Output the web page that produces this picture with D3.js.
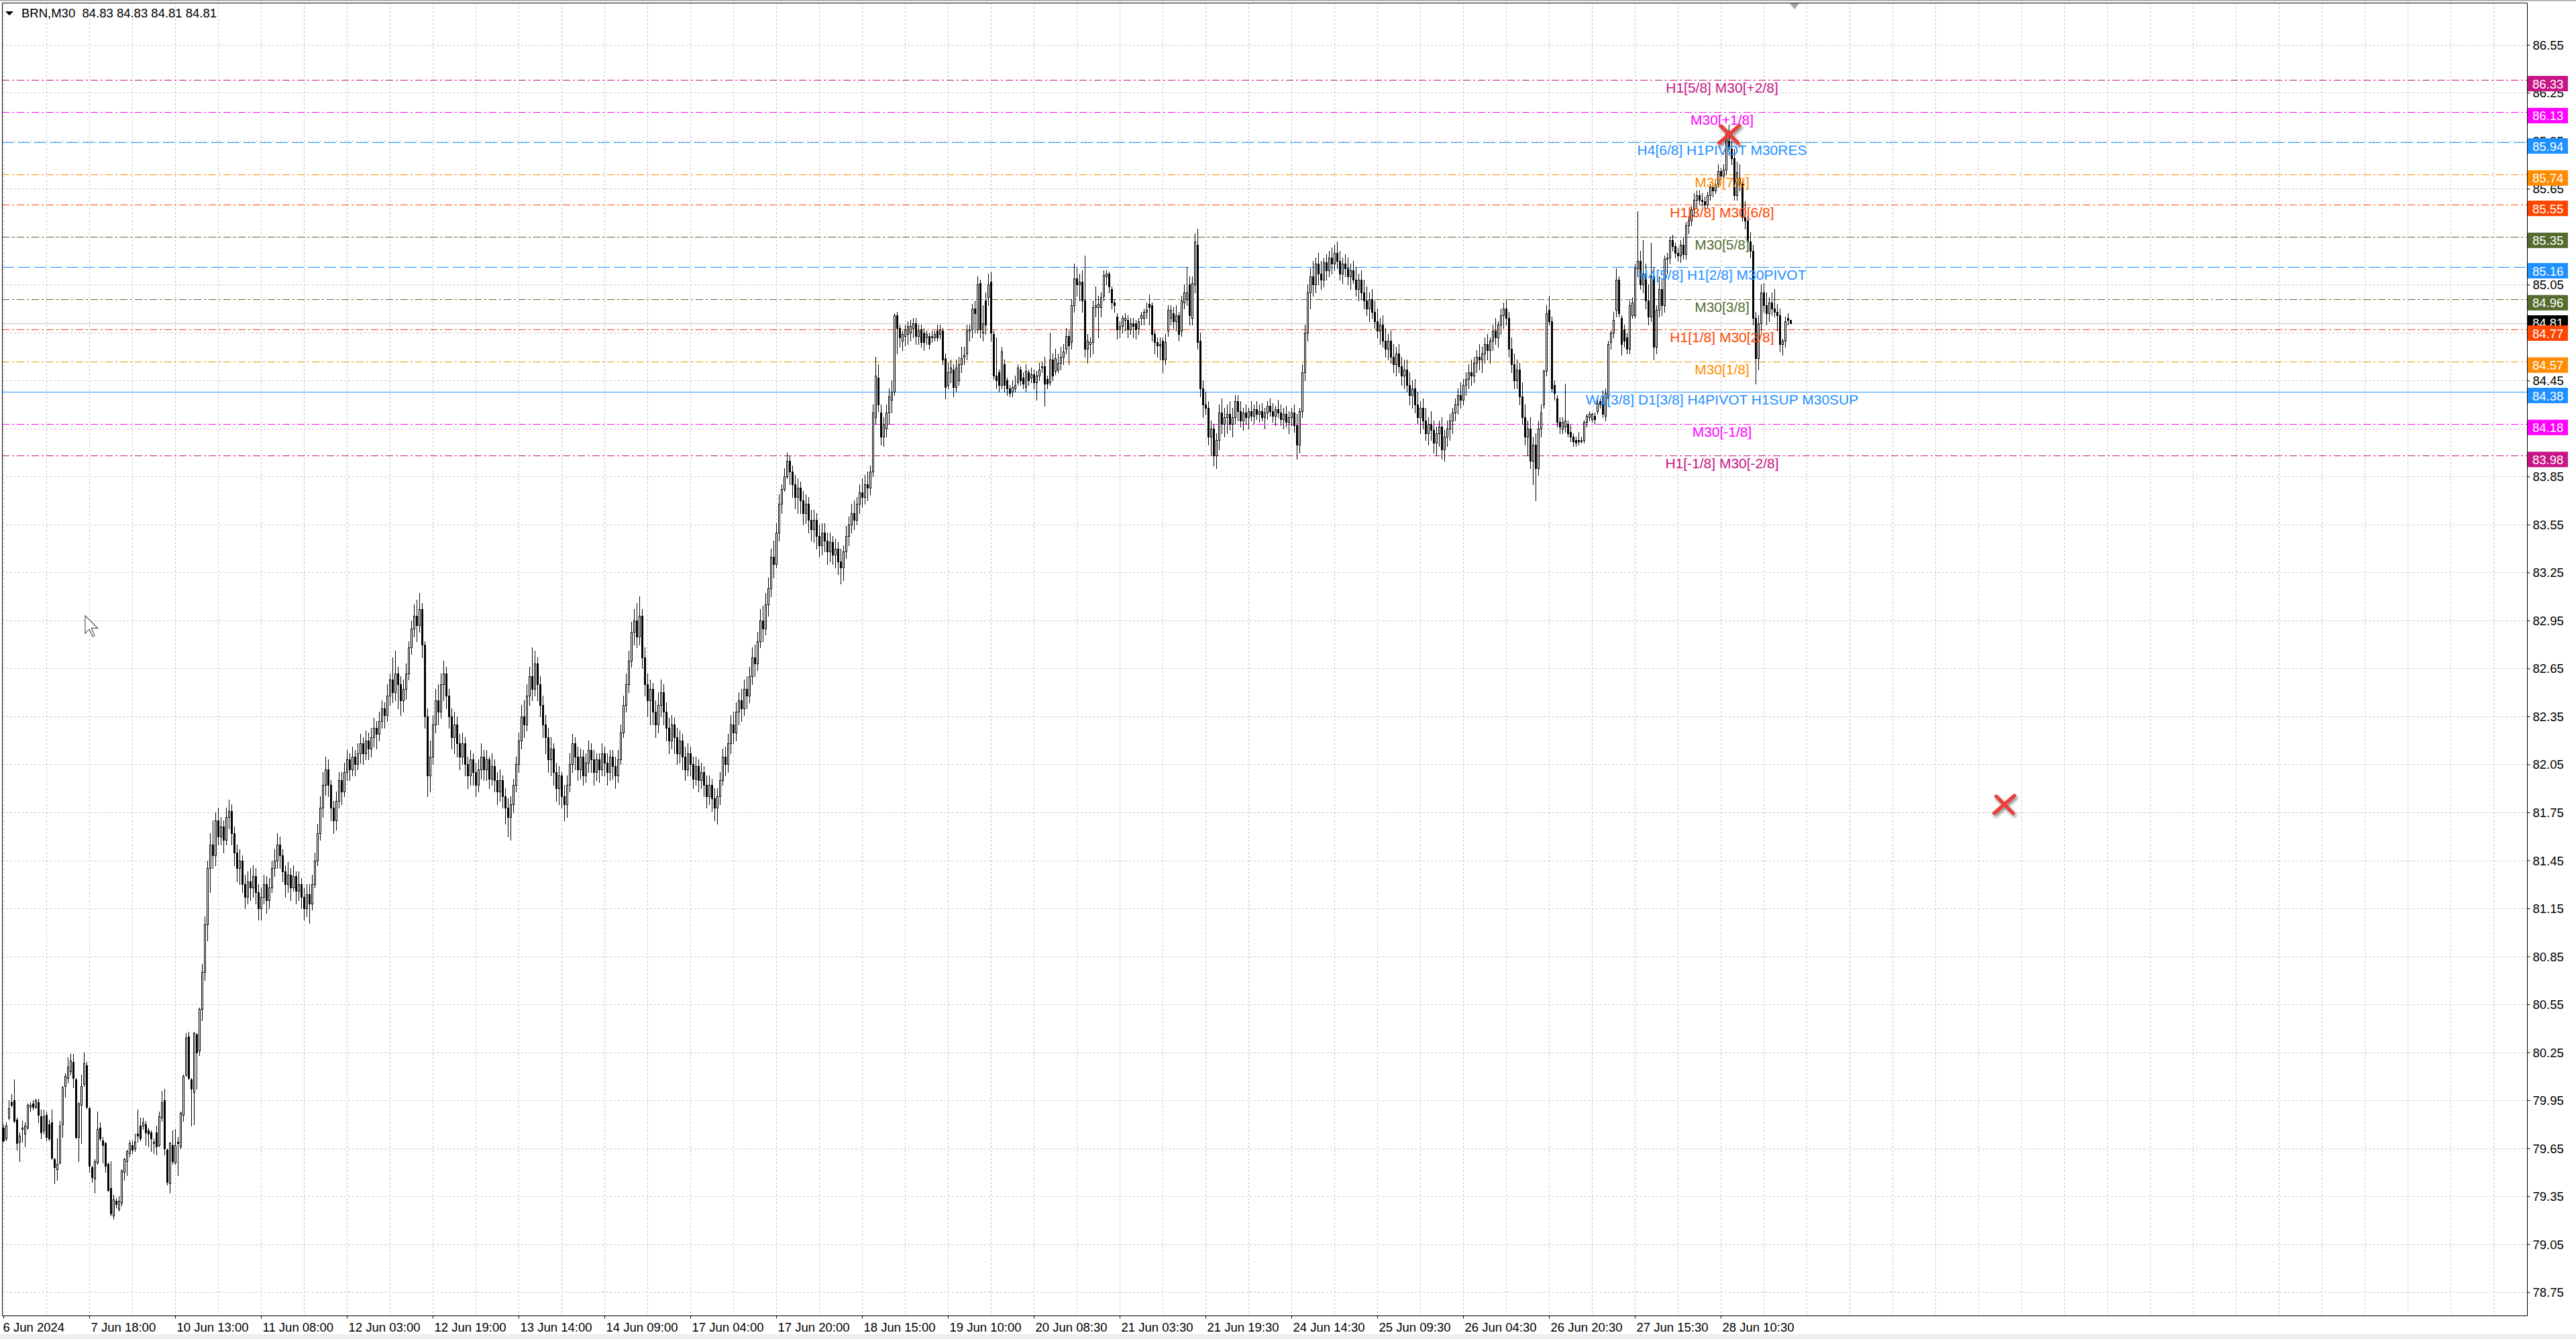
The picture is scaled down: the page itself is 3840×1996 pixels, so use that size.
<!DOCTYPE html>
<html><head><meta charset="utf-8">
<script src="https://cdn.jsdelivr.net/npm/d3@7"></script>
<style>html,body{margin:0;padding:0;background:#fff;overflow:hidden}</style>
</head><body><svg id="c" width="3840" height="1996"></svg>
<script>
// ---------------- DATA ----------------
const headerText = "BRN,M30  84.83 84.83 84.81 84.81";
const opens  = [79.78,79.71,79.84,79.94,79.95,79.83,79.69,79.77,79.74,79.78,79.91,79.93,79.91,79.94,79.85,79.76,79.86,79.80,79.81,79.58,79.52,79.56,79.80,80.04,80.09,80.13,80.19,80.08,79.72,79.92,80.05,80.17,79.90,79.53,79.46,79.56,79.78,79.70,79.68,79.55,79.40,79.23,79.32,79.27,79.31,79.50,79.57,79.62,79.67,79.65,79.74,79.79,79.79,79.80,79.76,79.75,79.68,79.75,79.67,79.84,79.95,79.64,79.43,79.67,79.56,79.69,79.66,79.86,80.11,80.35,80.08,80.00,80.36,80.26,
80.52,80.75,81.05,81.40,81.55,81.48,81.70,81.60,81.66,81.58,81.72,81.76,81.62,81.50,81.40,81.45,81.30,81.22,81.32,81.28,81.35,81.25,81.15,81.22,81.30,81.20,81.28,
81.40,81.45,81.55,81.48,81.38,81.30,81.36,81.28,81.35,81.26,81.30,81.22,81.15,81.24,81.18,81.30,81.45,81.62,81.78,81.92,
82.02,81.92,81.78,81.70,81.82,81.95,81.88,82.00,82.08,82.02,82.10,82.05,82.12,82.18,82.12,82.20,82.15,82.22,82.28,82.24,82.32,82.40,82.36,82.48,82.58,82.50,82.62,82.55,82.45,82.52,
82.62,82.78,82.90,82.98,82.92,83.02,82.80,82.35,81.98,82.10,82.30,82.45,82.38,82.55,82.62,82.48,82.35,82.22,82.30,82.18,
82.10,82.18,82.05,81.98,82.08,82.00,81.92,82.02,82.10,82.02,82.08,81.96,82.04,81.95,81.88,81.95,81.85,81.78,81.72,81.80,81.92,82.05,82.20,82.35,82.30,82.48,82.60,82.52,82.68,82.55,
82.42,82.30,82.22,82.08,82.15,82.00,81.90,81.98,81.85,81.80,81.92,82.05,82.18,82.10,82.02,82.10,81.98,82.06,82.14,82.08,82.00,82.08,82.02,82.12,82.06,82.00,82.10,82.04,81.98,82.08,
82.25,82.42,82.55,82.70,82.88,82.95,82.85,82.98,82.72,82.55,82.45,82.52,82.38,82.30,82.42,82.50,82.38,82.28,82.20,82.30,
82.22,82.12,82.20,82.10,82.02,82.12,82.05,81.96,82.04,81.95,82.00,81.92,81.85,81.92,81.84,81.78,81.85,81.95,82.10,82.05,82.18,82.30,
82.25,82.38,82.45,82.40,82.52,82.48,82.60,82.72,82.68,82.82,82.95,82.90,83.05,83.15,83.35,83.30,83.50,83.68,83.77,83.85,83.95,83.88,83.80,83.72,83.78,83.70,83.62,83.68,
83.58,83.52,83.58,83.48,83.42,83.50,83.45,83.38,83.44,83.36,83.40,83.32,83.28,83.38,83.48,83.55,83.62,83.58,83.68,83.75,83.72,83.80,83.78,
83.88,84.22,84.47,84.25,84.10,84.15,84.25,84.33,84.38,84.86,84.78,84.70,84.73,84.74,84.75,84.78,84.81,84.73,84.77,84.75,84.72,84.73,84.72,84.72,84.76,84.74,84.76,
84.59,84.42,84.50,84.52,84.41,84.45,84.55,84.60,84.62,84.76,84.77,84.90,84.77,85.06,84.75,84.95,84.97,85.07,84.74,84.48,84.50,84.42,84.55,84.45,84.40,
84.38,84.40,84.44,84.52,84.47,84.41,84.50,84.47,84.49,84.44,84.48,84.53,84.54,84.46,84.44,84.58,84.51,84.52,84.56,84.60,84.65,84.73,84.69,84.92,
85.09,85.05,85.07,84.95,84.65,84.68,84.69,84.91,84.91,84.91,84.98,85.10,85.12,85.02,84.94,84.85,84.77,84.79,84.83,84.83,84.77,84.81,84.81,84.78,84.84,
84.84,84.88,84.93,84.92,84.74,84.69,84.67,84.70,84.58,84.76,84.84,84.87,84.82,84.86,84.76,84.94,84.96,85.05,84.84,85.05,85.30,84.70,84.40,84.30,
84.28,84.10,84.15,83.98,84.08,84.25,84.18,84.22,84.24,84.18,84.22,84.32,84.26,84.20,84.25,84.22,84.26,84.23,84.27,84.24,84.26,84.22,84.25,84.29,84.26,84.23,84.27,84.25,84.21,84.24,84.19,84.22,84.25,84.17,84.05,
84.26,84.50,84.75,85.00,85.10,85.05,85.18,85.12,85.08,85.19,85.14,85.22,85.18,85.25,85.20,85.12,85.18,85.15,85.10,85.14,85.08,85.02,85.08,85.00,84.95,84.90,84.96,
84.88,84.82,84.76,84.80,84.70,84.65,84.70,84.60,84.55,84.62,84.54,84.48,84.52,84.42,84.36,84.40,84.30,84.22,84.28,84.20,84.12,84.18,84.14,84.06,84.12,84.16,84.02,84.10,84.15,84.20,
84.25,84.30,84.36,84.33,84.42,84.46,84.50,84.48,84.56,84.60,84.58,84.62,84.68,84.64,84.70,84.76,84.72,84.80,84.86,84.90,84.84,84.65,84.55,84.45,84.52,84.35,84.22,84.10,84.15,83.95,84.05,83.90,84.15,
84.30,84.51,84.89,84.82,84.42,84.34,84.19,84.15,84.16,84.18,84.13,84.10,84.08,84.08,84.07,84.08,84.19,84.22,84.21,84.23,84.26,84.32,84.35,84.23,84.34,84.69,84.75,84.89,85.08,84.84,84.77,84.72,84.65,84.86,84.86,
85.15,85.20,85.05,85.12,84.95,84.85,85.10,84.66,84.89,85.02,84.92,85.21,85.22,85.33,85.29,85.25,85.23,85.30,85.24,85.42,85.45,85.52,85.58,85.61,85.58,85.57,85.55,85.61,85.66,85.64,85.68,85.76,85.73,85.77,85.95,85.90,85.84,85.61,85.72,85.68,85.47,85.45,85.32,85.26,84.84,84.59,84.81,85.00,84.92,84.87,84.94,84.90,84.88,84.86,84.68,84.70,84.84,84.83];
const highs  = [79.80,79.81,79.95,79.99,80.08,79.84,79.75,79.82,79.81,79.93,79.94,79.95,79.96,79.96,79.89,79.89,79.88,79.83,79.89,79.59,79.71,79.82,80.04,80.12,80.22,80.24,80.24,80.09,79.94,80.11,80.25,80.19,79.91,79.54,79.58,79.88,79.81,79.72,79.69,79.56,79.57,79.36,79.34,79.35,79.52,79.59,79.64,79.70,79.70,79.74,79.89,79.84,79.84,79.82,79.78,79.76,79.71,79.79,79.88,80.01,80.02,79.65,79.69,79.76,79.77,79.72,79.88,80.11,80.37,80.38,80.09,80.38,80.37,80.53,
80.80,81.10,81.45,81.62,81.70,81.75,81.78,81.72,81.70,81.78,81.83,81.80,81.66,81.55,81.52,81.48,81.36,81.38,81.40,81.42,81.40,81.30,81.28,81.36,81.35,81.34,81.45,
81.52,81.62,81.60,81.52,81.42,81.44,81.40,81.42,81.38,81.38,81.34,81.28,81.30,81.30,81.36,81.50,81.68,81.85,82.00,82.10,
82.08,81.95,81.82,81.88,82.00,82.00,82.06,82.14,82.12,82.16,82.14,82.18,82.24,82.22,82.26,82.25,82.28,82.34,82.32,82.38,82.45,82.44,82.55,82.62,82.72,82.76,82.66,82.60,82.58,82.68,
82.82,82.95,83.05,83.08,83.12,83.06,82.82,82.40,82.20,82.36,82.52,82.55,82.62,82.70,82.66,82.52,82.40,82.38,82.35,82.24,
82.25,82.22,82.10,82.14,82.12,82.06,82.08,82.18,82.14,82.14,82.10,82.12,82.08,82.00,82.02,81.98,81.90,81.84,81.85,81.96,82.10,82.25,82.42,82.45,82.55,82.66,82.78,82.76,82.72,82.60,
82.48,82.36,82.28,82.22,82.18,82.06,82.04,82.00,81.92,81.98,82.12,82.24,82.22,82.16,82.15,82.14,82.12,82.20,82.18,82.14,82.12,82.12,82.18,82.16,82.12,82.14,82.14,82.10,82.14,82.30,
82.48,82.62,82.76,82.94,83.02,83.06,83.10,83.02,82.78,82.62,82.58,82.56,82.45,82.50,82.58,82.55,82.44,82.34,82.36,82.34,
82.28,82.26,82.24,82.16,82.18,82.16,82.10,82.10,82.08,82.06,82.04,81.98,81.98,81.96,81.90,81.90,82.00,82.15,82.16,82.24,82.36,82.38,
82.44,82.50,82.52,82.58,82.60,82.66,82.78,82.80,82.88,83.02,83.04,83.12,83.22,83.40,83.45,83.56,83.74,83.80,83.90,84.00,83.98,83.92,83.86,83.84,83.82,83.76,83.74,83.72,
83.64,83.64,83.62,83.55,83.56,83.56,83.50,83.50,83.48,83.46,83.44,83.40,83.42,83.54,83.60,83.68,83.70,83.72,83.80,83.84,83.86,83.88,83.92,
84.30,84.60,84.55,84.30,84.22,84.30,84.40,84.45,84.87,84.88,84.80,84.76,84.80,84.82,84.83,84.84,84.84,84.80,84.80,84.78,84.76,84.75,84.76,84.76,84.80,84.80,84.78,
84.62,84.56,84.58,84.55,84.58,84.60,84.66,84.66,84.80,84.80,84.93,84.95,85.10,85.08,84.92,85.00,85.12,85.13,84.76,84.72,84.52,84.66,84.58,84.47,84.42,
84.45,84.48,84.55,84.54,84.50,84.55,84.52,84.53,84.52,84.51,84.56,84.57,84.60,84.48,84.75,84.62,84.65,84.62,84.66,84.68,84.78,84.76,84.96,85.18,
85.16,85.12,85.14,85.23,84.74,84.72,84.95,85.04,84.98,85.00,85.14,85.14,85.13,85.04,84.96,84.87,84.82,84.86,84.87,84.86,84.84,84.84,84.83,84.84,84.88,
84.90,84.94,84.99,84.94,84.76,84.72,84.72,84.72,84.74,84.92,84.92,84.91,84.92,84.88,84.98,85.05,85.16,85.10,85.10,85.37,85.40,84.75,84.45,84.38,
84.32,84.20,84.18,84.12,84.30,84.34,84.28,84.30,84.32,84.28,84.36,84.36,84.32,84.28,84.30,84.28,84.32,84.30,84.32,84.30,84.31,84.28,84.32,84.34,84.31,84.29,84.33,84.30,84.28,84.29,84.26,84.28,84.30,84.24,84.28,
84.55,84.80,85.05,85.15,85.20,85.22,85.25,85.20,85.22,85.24,85.26,85.28,85.30,85.32,85.26,85.22,85.24,85.22,85.18,85.20,85.16,85.12,85.14,85.08,85.04,85.00,85.02,
84.95,84.90,84.84,84.86,84.78,84.74,84.76,84.68,84.66,84.68,84.60,84.58,84.58,84.50,84.45,84.46,84.38,84.32,84.34,84.28,84.22,84.26,84.20,84.16,84.20,84.22,84.14,84.20,84.24,84.28,
84.34,84.40,84.44,84.46,84.50,84.55,84.58,84.60,84.64,84.68,84.66,84.72,84.74,84.72,84.80,84.84,84.82,84.90,84.94,84.96,84.88,84.72,84.62,84.58,84.56,84.44,84.30,84.20,84.22,84.10,84.12,84.20,84.30,
84.52,84.92,84.98,84.85,84.45,84.36,84.22,84.22,84.43,84.20,84.17,84.12,84.10,84.13,84.10,84.20,84.24,84.26,84.25,84.25,84.33,84.34,84.39,84.40,84.70,84.76,84.88,85.15,85.10,84.86,84.80,84.75,84.95,84.97,85.18,
85.51,85.26,85.33,85.18,85.05,85.31,85.16,84.92,85.10,85.08,85.23,85.25,85.35,85.36,85.31,85.28,85.33,85.35,85.44,85.48,85.54,85.62,85.64,85.64,85.62,85.60,85.63,85.68,85.69,85.70,85.80,85.78,85.80,86.02,86.05,85.95,85.90,85.82,85.80,85.70,85.57,85.48,85.38,85.30,84.88,84.86,85.05,85.06,85.00,84.97,85.00,85.02,84.93,84.90,84.71,84.85,84.87,84.83];
const lows   = [79.69,79.70,79.83,79.91,79.81,79.64,79.57,79.69,79.66,79.77,79.88,79.89,79.90,79.81,79.71,79.74,79.70,79.70,79.58,79.43,79.45,79.55,79.72,79.97,80.06,80.11,80.03,79.71,79.57,79.68,80.04,79.90,79.50,79.44,79.37,79.55,79.70,79.56,79.50,79.38,79.23,79.21,79.28,79.26,79.29,79.45,79.48,79.60,79.62,79.63,79.69,79.70,79.77,79.67,79.66,79.63,79.62,79.61,79.66,79.82,79.61,79.42,79.37,79.55,79.55,79.48,79.65,79.82,80.10,80.08,79.79,79.80,80.02,80.23,
80.45,80.70,80.95,81.25,81.40,81.42,81.55,81.55,81.50,81.55,81.65,81.55,81.42,81.32,81.30,81.25,81.15,81.18,81.20,81.22,81.18,81.08,81.08,81.18,81.12,81.15,81.25,
81.35,81.40,81.40,81.32,81.22,81.25,81.20,81.26,81.18,81.20,81.15,81.08,81.10,81.06,81.14,81.28,81.42,81.58,81.72,81.86,
81.85,81.70,81.62,81.64,81.78,81.80,81.85,81.95,81.95,81.98,81.98,82.02,82.06,82.05,82.08,82.08,82.10,82.16,82.15,82.20,82.28,82.28,82.32,82.42,82.44,82.45,82.40,82.36,82.38,82.46,
82.58,82.74,82.85,82.82,82.88,82.72,82.28,81.85,81.88,82.05,82.25,82.30,82.34,82.45,82.40,82.28,82.15,82.12,82.10,82.02,
82.05,81.98,81.90,81.92,81.92,81.85,81.88,81.96,81.95,81.95,81.90,81.92,81.88,81.80,81.82,81.78,81.68,81.60,81.58,81.75,81.88,82.00,82.15,82.22,82.26,82.42,82.45,82.48,82.45,82.35,
82.22,82.12,82.00,81.98,81.92,81.82,81.80,81.78,81.70,81.72,81.88,82.00,82.02,81.95,81.96,81.92,81.94,82.00,82.00,81.92,81.95,81.94,81.98,81.98,81.92,81.95,81.96,81.90,81.94,82.05,
82.22,82.38,82.50,82.66,82.80,82.78,82.80,82.65,82.48,82.35,82.30,82.30,82.22,82.25,82.35,82.30,82.20,82.12,82.15,82.12,
82.05,82.06,82.02,81.95,81.98,81.98,81.90,81.92,81.88,81.90,81.85,81.78,81.80,81.76,81.70,81.68,81.80,81.92,81.98,82.00,82.12,82.18,
82.20,82.30,82.32,82.36,82.40,82.44,82.55,82.60,82.64,82.78,82.82,82.86,82.98,83.10,83.22,83.28,83.45,83.62,83.76,83.84,83.80,83.72,83.65,83.62,83.62,83.55,83.56,83.50,
83.45,83.44,83.40,83.35,83.36,83.38,83.30,83.32,83.30,83.28,83.24,83.18,83.20,83.34,83.42,83.50,83.52,83.55,83.62,83.66,83.68,83.70,83.74,
83.85,84.18,84.26,84.05,84.04,84.10,84.18,84.25,84.36,84.62,84.66,84.64,84.67,84.68,84.70,84.72,84.68,84.68,84.66,84.64,84.68,84.65,84.69,84.70,84.70,84.71,84.55,
84.34,84.40,84.44,84.35,84.38,84.42,84.50,84.55,84.58,84.70,84.72,84.75,84.75,84.72,84.70,84.74,84.92,84.70,84.46,84.40,84.38,84.40,84.38,84.36,84.35,
84.35,84.38,84.42,84.42,84.40,84.38,84.42,84.44,84.40,84.33,84.45,84.50,84.29,84.40,84.42,84.45,84.49,84.50,84.52,84.55,84.62,84.55,84.65,84.88,
84.98,84.95,84.88,84.60,84.56,84.60,84.62,84.85,84.72,84.85,84.95,85.05,85.00,84.90,84.88,84.71,84.72,84.75,84.76,84.72,84.74,84.72,84.71,84.74,84.80,
84.80,84.84,84.80,84.70,84.62,84.60,84.58,84.50,84.55,84.73,84.80,84.78,84.76,84.70,84.73,84.90,84.92,84.80,84.80,85.00,84.65,84.35,84.22,84.24,
84.05,83.98,83.92,83.90,84.02,84.12,84.10,84.12,84.14,84.10,84.18,84.20,84.16,84.14,84.18,84.15,84.20,84.18,84.21,84.19,84.20,84.15,84.21,84.23,84.19,84.17,84.22,84.17,84.15,84.16,84.12,84.17,84.13,83.96,84.00,
84.22,84.45,84.70,84.90,84.98,85.00,85.05,85.02,85.04,85.08,85.10,85.12,85.14,85.15,85.08,85.06,85.10,85.05,85.02,85.06,84.98,84.95,84.96,84.90,84.86,84.82,84.84,
84.78,84.72,84.68,84.66,84.60,84.58,84.56,84.50,84.48,84.50,84.42,84.40,84.38,84.30,84.28,84.25,84.18,84.12,84.15,84.08,84.05,84.08,84.00,83.98,84.04,83.96,83.95,84.04,84.08,84.12,
84.20,84.24,84.28,84.30,84.36,84.40,84.42,84.44,84.50,84.52,84.50,84.56,84.58,84.56,84.64,84.68,84.66,84.74,84.78,84.80,84.60,84.50,84.40,84.40,84.30,84.18,84.05,83.98,83.90,83.80,83.70,83.86,84.10,
84.28,84.48,84.80,84.38,84.33,84.16,84.12,84.12,84.13,84.10,84.07,84.04,84.04,84.05,84.06,84.06,84.16,84.20,84.19,84.18,84.24,84.28,84.22,84.20,84.30,84.65,84.72,84.85,84.85,84.61,84.66,84.62,84.62,84.84,84.84,
85.10,85.02,85.00,84.90,84.80,84.82,84.58,84.62,84.85,84.86,84.88,85.12,85.18,85.26,85.22,85.20,85.19,85.21,85.21,85.37,85.42,85.48,85.53,85.55,85.54,85.52,85.53,85.58,85.60,85.62,85.66,85.70,85.70,85.74,85.86,85.80,85.58,85.58,85.64,85.45,85.40,85.28,85.22,84.80,84.43,84.52,84.76,84.88,84.80,84.82,84.86,84.85,84.76,84.63,84.61,84.66,84.80,84.81];
const closes = [79.70,79.79,79.90,79.92,79.82,79.68,79.73,79.78,79.79,79.92,79.92,79.91,79.95,79.86,79.75,79.85,79.72,79.71,79.59,79.53,79.55,79.79,80.03,80.10,80.16,80.20,80.09,79.72,79.93,80.04,80.18,79.91,79.54,79.47,79.57,79.77,79.71,79.67,79.54,79.39,79.24,79.33,79.30,79.32,79.51,79.58,79.63,79.68,79.64,79.69,79.73,79.71,79.81,79.75,79.74,79.71,79.69,79.66,79.85,79.94,79.65,79.44,79.68,79.57,79.67,79.68,79.87,80.10,80.34,80.09,80.02,80.37,80.25,80.52,
80.75,81.05,81.40,81.55,81.48,81.70,81.60,81.66,81.58,81.72,81.76,81.62,81.50,81.40,81.45,81.30,81.22,81.32,81.28,81.35,81.25,81.15,81.22,81.30,81.20,81.28,81.40,
81.45,81.55,81.48,81.38,81.30,81.36,81.28,81.35,81.26,81.30,81.22,81.15,81.24,81.18,81.30,81.45,81.62,81.78,81.92,82.02,
81.92,81.78,81.70,81.82,81.95,81.88,82.00,82.08,82.02,82.10,82.05,82.12,82.18,82.12,82.20,82.15,82.22,82.28,82.24,82.32,82.40,82.36,82.48,82.58,82.50,82.62,82.55,82.45,82.52,82.62,
82.78,82.90,82.98,82.92,83.02,82.80,82.35,81.98,82.10,82.30,82.45,82.38,82.55,82.62,82.48,82.35,82.22,82.30,82.18,82.10,
82.18,82.05,81.98,82.08,82.00,81.92,82.02,82.10,82.02,82.08,81.96,82.04,81.95,81.88,81.95,81.85,81.78,81.72,81.80,81.92,82.05,82.20,82.35,82.30,82.48,82.60,82.52,82.68,82.55,82.42,
82.30,82.22,82.08,82.15,82.00,81.90,81.98,81.85,81.80,81.92,82.05,82.18,82.10,82.02,82.10,81.98,82.06,82.14,82.08,82.00,82.08,82.02,82.12,82.06,82.00,82.10,82.04,81.98,82.08,82.25,
82.42,82.55,82.70,82.88,82.95,82.85,82.98,82.72,82.55,82.45,82.52,82.38,82.30,82.42,82.50,82.38,82.28,82.20,82.30,82.22,
82.12,82.20,82.10,82.02,82.12,82.05,81.96,82.04,81.95,82.00,81.92,81.85,81.92,81.84,81.78,81.85,81.95,82.10,82.05,82.18,82.30,82.25,
82.38,82.45,82.40,82.52,82.48,82.60,82.72,82.68,82.82,82.95,82.90,83.05,83.15,83.35,83.30,83.50,83.68,83.77,83.85,83.95,83.88,83.80,83.72,83.78,83.70,83.62,83.68,83.58,
83.52,83.58,83.48,83.42,83.50,83.45,83.38,83.44,83.36,83.40,83.32,83.28,83.38,83.48,83.55,83.62,83.58,83.68,83.75,83.72,83.80,83.78,83.88,
84.25,84.48,84.30,84.10,84.18,84.25,84.35,84.38,84.86,84.78,84.72,84.74,84.77,84.79,84.79,84.81,84.73,84.76,84.69,84.69,84.74,84.68,84.73,84.74,84.72,84.77,84.58,
84.41,84.50,84.53,84.41,84.53,84.55,84.59,84.61,84.76,84.77,84.90,84.87,85.05,84.77,84.81,84.80,85.05,84.75,84.48,84.45,84.42,84.63,84.42,84.40,84.37,
84.41,84.42,84.53,84.45,84.43,84.51,84.45,84.49,84.44,84.48,84.52,84.54,84.43,84.43,84.58,84.48,84.59,84.56,84.60,84.63,84.73,84.67,84.92,85.09,
85.05,85.07,84.95,84.65,84.70,84.69,84.91,84.92,84.93,84.97,85.11,85.12,85.04,84.94,84.92,84.77,84.79,84.84,84.84,84.77,84.81,84.79,84.77,84.82,84.86,
84.88,84.89,84.91,84.74,84.69,84.67,84.68,84.58,84.69,84.89,84.89,84.82,84.86,84.74,84.95,85.00,85.00,84.86,85.06,85.32,84.69,84.40,84.30,84.28,
84.10,84.15,83.98,84.08,84.25,84.18,84.22,84.24,84.18,84.22,84.32,84.26,84.20,84.25,84.22,84.26,84.23,84.27,84.24,84.26,84.22,84.25,84.29,84.26,84.23,84.27,84.25,84.21,84.24,84.19,84.22,84.25,84.17,84.05,84.26,
84.50,84.75,85.00,85.10,85.05,85.18,85.12,85.08,85.19,85.14,85.22,85.18,85.25,85.20,85.12,85.18,85.15,85.10,85.14,85.08,85.02,85.08,85.00,84.95,84.90,84.96,84.88,
84.82,84.76,84.80,84.70,84.65,84.70,84.60,84.55,84.62,84.54,84.48,84.52,84.42,84.36,84.40,84.30,84.22,84.28,84.20,84.12,84.18,84.14,84.06,84.12,84.16,84.02,84.10,84.15,84.20,84.25,
84.30,84.36,84.33,84.42,84.46,84.50,84.48,84.56,84.60,84.58,84.62,84.68,84.64,84.70,84.76,84.72,84.80,84.86,84.90,84.84,84.65,84.55,84.45,84.52,84.35,84.22,84.10,84.15,83.95,84.05,83.90,84.15,84.25,
84.51,84.87,84.82,84.40,84.37,84.19,84.16,84.19,84.20,84.12,84.10,84.07,84.06,84.07,84.08,84.19,84.23,84.24,84.24,84.21,84.31,84.30,84.24,84.37,84.68,84.75,84.83,85.08,84.87,84.68,84.70,84.65,84.92,84.94,85.15,
85.20,85.05,85.12,84.95,84.85,85.10,84.66,84.89,85.02,84.92,85.21,85.22,85.33,85.29,85.25,85.23,85.30,85.24,85.42,85.45,85.52,85.58,85.61,85.58,85.57,85.55,85.61,85.66,85.64,85.68,85.76,85.73,85.77,85.99,85.90,85.84,85.61,85.75,85.68,85.47,85.45,85.32,85.26,84.84,84.59,84.81,85.00,84.92,84.87,84.94,84.90,84.88,84.86,84.68,84.70,84.82,84.83,84.81];

const priceTicks = [86.55,86.25,85.95,85.65,85.35,85.05,84.75,84.45,84.15,83.85,83.55,83.25,82.95,82.65,82.35,82.05,81.75,81.45,81.15,80.85,80.55,80.25,79.95,79.65,79.35,79.05,78.75];
const timeLabels = ["6 Jun 2024","7 Jun 18:00","10 Jun 13:00","11 Jun 08:00","12 Jun 03:00","12 Jun 19:00","13 Jun 14:00","14 Jun 09:00","17 Jun 04:00","17 Jun 20:00","18 Jun 15:00","19 Jun 10:00","20 Jun 08:30","21 Jun 03:30","21 Jun 19:30","24 Jun 14:30","25 Jun 09:30","26 Jun 04:30","26 Jun 20:30","27 Jun 15:30","28 Jun 10:30"];
const timeLabelBars = [0,32,64,96,128,160,192,224,256,288,320,352,384,416,448,480,512,544,576,608,640];

const levelValues = [86.33,86.13,85.94,85.74,85.55,85.35,85.16,84.96,84.77,84.57,84.38,84.18,83.98];
const levelNames  = ["H1[5/8] M30[+2/8]","M30[+1/8]","H4[6/8] H1PIVOT M30RES","M30[7/8]","H1[3/8] M30[6/8]","M30[5/8]","H4[5/8] H1[2/8] M30PIVOT","M30[3/8]","H1[1/8] M30[2/8]","M30[1/8]","W1[3/8] D1[3/8] H4PIVOT H1SUP M30SUP","M30[-1/8]","H1[-1/8] M30[-2/8]"];
const levelKinds  = ["p2","p1","res","o7","o6","o5","piv","o3","o2","o1","sup","m1","m2"];
const currentPrice = 84.81;
const labelBar = 640.5;
const markerBars = [643.2, 745.7];
const markerPrices = [85.99, 81.80];
const cursorBar = 30.5, cursorPrice = 82.98;
const shiftBar = 667.5;

// ---------------- STYLES ----------------
const kindStyle = {
  p2:{c:"#c71585",d:"11,4,3,4"}, p1:{c:"#ff00ff",d:"11,4,3,4"}, res:{c:"#1e90ff",d:"18,6"},
  o7:{c:"#ff8c00",d:"11,4,3,4"}, o6:{c:"#ff4500",d:"11,4,3,4"}, o5:{c:"#556b2f",d:"11,4,3,4"},
  piv:{c:"#1e90ff",d:"18,6"}, o3:{c:"#556b2f",d:"11,4,3,4"}, o2:{c:"#ff4500",d:"11,4,3,4"},
  o1:{c:"#ff8c00",d:"11,4,3,4"}, sup:{c:"#1e90ff",d:null}, m1:{c:"#ff00ff",d:"11,4,3,4"}, m2:{c:"#c71585",d:"11,4,3,4"}
};
const FONT = "'Liberation Sans', Arial, sans-serif";

// ---------------- CHART ----------------
const W=3840,H=1996;
const plotL=3, plotR=3767, plotT=4, plotB=1961;
const svg=d3.select('#c');
const x=d3.scaleLinear().domain([0,1]).range([5,9]);
const y=d3.scaleLinear().domain([78.75,86.55]).range([1926.2,66.7]);
const nBars = Math.min(opens.length, highs.length, lows.length, closes.length);

svg.append('rect').attr('width',W).attr('height',H).attr('fill','#fff');
svg.append('rect').attr('x',0).attr('y',0).attr('width',W).attr('height',1.5).attr('fill','#a0a0a0');
svg.append('rect').attr('x',0).attr('y',1989).attr('width',W).attr('height',7).attr('fill','#ececec');

const defs=svg.append('defs');
defs.append('clipPath').attr('id','plot').append('rect')
  .attr('x',plotL).attr('y',plotT).attr('width',plotR-plotL).attr('height',plotB-plotT);
const f=defs.append('filter').attr('id','shadow').attr('x','-50%').attr('y','-50%').attr('width','200%').attr('height','200%');
f.append('feDropShadow').attr('dx',2).attr('dy',3).attr('stdDeviation',2).attr('flood-color','#000').attr('flood-opacity',0.45);

const plot=svg.append('g').attr('clip-path','url(#plot)');

// grid
const gridV=d3.range(0,(plotR-5)/4,16);
plot.append('g').selectAll('line').data(gridV).join('line')
  .attr('x1',d=>Math.round(x(d))+0.5).attr('x2',d=>Math.round(x(d))+0.5)
  .attr('y1',plotT).attr('y2',plotB)
  .attr('stroke','#c4c4c4').attr('stroke-width',1).attr('stroke-dasharray','3,3');
plot.append('g').selectAll('line').data(priceTicks).join('line')
  .attr('x1',plotL).attr('x2',plotR)
  .attr('y1',d=>Math.round(y(d))+0.5).attr('y2',d=>Math.round(y(d))+0.5)
  .attr('stroke','#c4c4c4').attr('stroke-width',1).attr('stroke-dasharray','3,3');

// murrey lines
plot.append('g').selectAll('line').data(levelValues).join('line')
  .attr('x1',plotL).attr('x2',plotR)
  .attr('y1',d=>Math.round(y(d))+0.5).attr('y2',d=>Math.round(y(d))+0.5)
  .attr('stroke',(d,i)=>kindStyle[levelKinds[i]].c).attr('stroke-width',1)
  .attr('stroke-dasharray',(d,i)=>kindStyle[levelKinds[i]].d);
// current price line
plot.append('line').attr('x1',plotL).attr('x2',plotR)
  .attr('y1',Math.round(y(currentPrice))+0.5).attr('y2',Math.round(y(currentPrice))+0.5)
  .attr('stroke','#c0c0c0').attr('stroke-width',1);

// candles
const bars=d3.range(nBars).map(i=>({i,o:opens[i],h:highs[i],l:lows[i],c:closes[i]}));
const cg=plot.append('g').attr('shape-rendering','crispEdges');
cg.selectAll('line').data(bars).join('line')
  .attr('x1',d=>Math.round(x(d.i))+0.5).attr('x2',d=>Math.round(x(d.i))+0.5)
  .attr('y1',d=>Math.round(y(d.h))).attr('y2',d=>Math.round(y(d.l))+1)
  .attr('stroke','#000').attr('stroke-width',1);
cg.selectAll('rect').data(bars).join('rect')
  .each(function(d){
    const cx=Math.round(x(d.i));
    const top=Math.round(y(Math.max(d.o,d.c))), bot=Math.round(y(Math.min(d.o,d.c)));
    const s=d3.select(this);
    if(d.c>=d.o){ s.attr('x',cx-0.5).attr('y',top+0.5).attr('width',2).attr('height',Math.max(bot-top,0))
      .attr('fill','#fff').attr('stroke','#000').attr('stroke-width',1); }
    else { s.attr('x',cx-1).attr('y',top).attr('width',3).attr('height',Math.max(bot-top+1,1)).attr('fill','#000'); }
  });

// level text labels
plot.append('g').selectAll('text').data(levelValues).join('text')
  .attr('x',x(labelBar)).attr('y',d=>y(d)+19)
  .attr('text-anchor','middle').attr('font-family',FONT).attr('font-size',21)
  .attr('fill',(d,i)=>kindStyle[levelKinds[i]].c).text((d,i)=>levelNames[i]);

// red X markers
const mk=plot.append('g').attr('filter','url(#shadow)');
markerBars.forEach((b,k)=>{
  const cx=x(b), cy=y(markerPrices[k]);
  mk.append('path').attr('d',`M${cx-15},${cy+13}L${cx+15},${cy-13}M${cx-12},${cy-12}L${cx+13},${cy+13}`)
    .attr('stroke','#e8403e').attr('stroke-width',5.5).attr('stroke-linecap','round').attr('fill','none');
});

// cursor
{
  const cx=x(cursorBar), cy=y(cursorPrice), s=1.55;
  const pts=[[0,0],[0,17],[4,13],[7,20],[9,19],[6,12],[12,12]].map(p=>[cx+p[0]*s,cy+p[1]*s]);
  svg.append('path').attr('d','M'+pts.map(p=>p.join(',')).join('L')+'Z')
    .attr('fill','#fff').attr('stroke','#555').attr('stroke-width',1.2);
}

// frame
svg.append('path').attr('d',`M${plotL+0.5},${plotB+0.5}V${plotT+0.5}H${plotR+0.5}V${plotB+0.5}H${plotL+0.5}`)
  .attr('fill','none').attr('stroke','#000').attr('stroke-width',1);
// shift marker
svg.append('path').attr('d',`M${x(shiftBar)-7},5L${x(shiftBar)+7},5L${x(shiftBar)},14Z`).attr('fill','#a8a8a8');

// Y axis
const yAxis=d3.axisRight(y).tickValues(priceTicks).tickSize(4).tickFormat(d3.format('.2f'));
const ya=svg.append('g').attr('transform',`translate(${plotR+0.5},0)`).call(yAxis);
ya.select('.domain').remove();
ya.selectAll('.tick line').attr('stroke','#000');
ya.selectAll('.tick text').attr('x',8).attr('dy','0.35em').attr('font-family',FONT).attr('font-size',18.5).attr('fill','#000');

// X axis
const xAxis=d3.axisBottom(x).tickValues(timeLabelBars).tickSize(4).tickFormat((d,i)=>timeLabels[i]);
const xa=svg.append('g').attr('transform',`translate(0,${plotB+0.5})`).call(xAxis);
xa.select('.domain').remove();
xa.selectAll('.tick line').attr('stroke','#000');
xa.selectAll('.tick text').attr('text-anchor','start').attr('x',(d,i)=>i===0?-1:2).attr('y',10).attr('dy','0.71em')
  .attr('font-family',FONT).attr('font-size',18.5).attr('fill','#000');

// right price labels (current price then levels)
const lab=svg.append('g');
{
  const yy=y(currentPrice);
  lab.append('rect').attr('x',plotR+1).attr('y',yy-11.5).attr('width',60).attr('height',23).attr('fill','#000');
  lab.append('text').attr('x',3775).attr('y',yy+6.7).attr('font-family',FONT).attr('font-size',18.5).attr('fill','#fff').text(currentPrice.toFixed(2));
}
levelValues.forEach((v,i)=>{
  const yy=y(v), col=kindStyle[levelKinds[i]].c;
  lab.append('rect').attr('x',plotR+1).attr('y',yy-6).attr('width',60).attr('height',23).attr('fill',col);
  lab.append('text').attr('x',3775).attr('y',yy+12.5).attr('font-family',FONT).attr('font-size',18.5).attr('fill','#fff').text(v.toFixed(2));
});

// header
svg.append('path').attr('d','M8,17L20,17L14,23Z').attr('fill','#000');
svg.append('text').attr('x',32).attr('y',26).attr('font-family',FONT).attr('font-size',18.5).attr('fill','#000')
  .attr('xml:space','preserve').style('white-space','pre').text(headerText);
</script></body></html>
